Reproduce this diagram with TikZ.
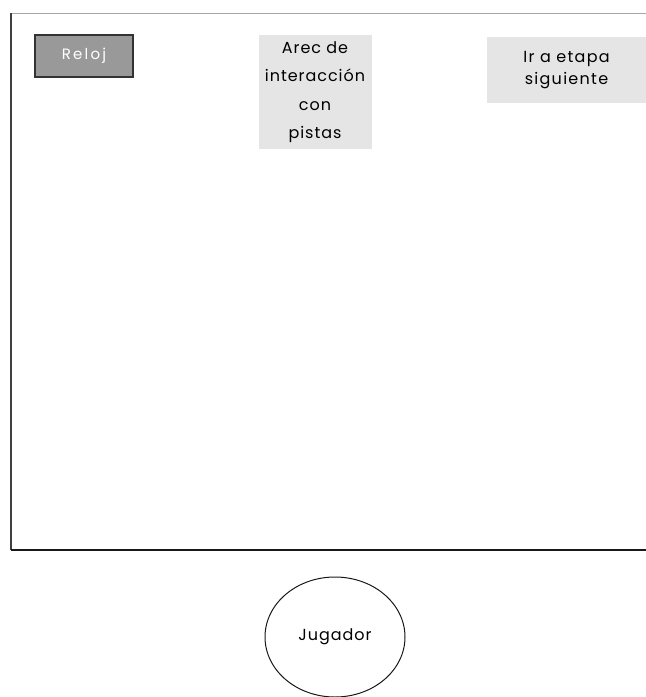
\documentclass[tikz,border=0pt]{standalone}
\usepackage{fontspec}
\setmainfont{Poppins}
\usetikzlibrary{shapes.geometric}

\begin{document}
\begin{tikzpicture}[x=1pt, y=-1pt,
  btn/.style={rectangle, draw=black!80, line width=1.2pt, fill=gray!80, text=white, font=\fontsize{15}{17}\selectfont\addfontfeature{LetterSpace=15}, minimum width=98pt, minimum height=42pt, inner sep=0pt},
  area/.style={rectangle, fill=black!10, align=center, inner sep=0pt},
  player/.style={ellipse, draw=black!90, line width=1pt, minimum width=140pt, minimum height=120pt, font=\fontsize{16}{18}\selectfont\addfontfeature{LetterSpace=6}},
]
\useasboundingbox (0,0) rectangle (646,697);

% === marco de la pantalla ===
\draw[gray!70, line width=1pt] (11,13) -- (646,13);
\draw[black!75, line width=1.4pt] (11,13) -- (11,550);
\draw[black!90, line width=1.8pt] (11,550) -- (646,550);

% === elementos de la pantalla ===
\node[btn] (reloj) at (84,56) {Reloj};
\node[area, minimum width=113pt, minimum height=114pt, font=\fontsize{16}{28.5}\selectfont\addfontfeature{LetterSpace=6}] (pistas) at (315,92)
  {Arec de\\interacción\\con\\pistas};
\node[area, minimum width=159pt, minimum height=66pt, font=\fontsize{16}{22}\selectfont\addfontfeature{LetterSpace=8}] (etapa) at (566.5,70)
  {Ir a etapa\\siguiente};

% === jugador ===
\node[player] (jugador) at (335,637) {Jugador};

\end{tikzpicture}
\end{document}
